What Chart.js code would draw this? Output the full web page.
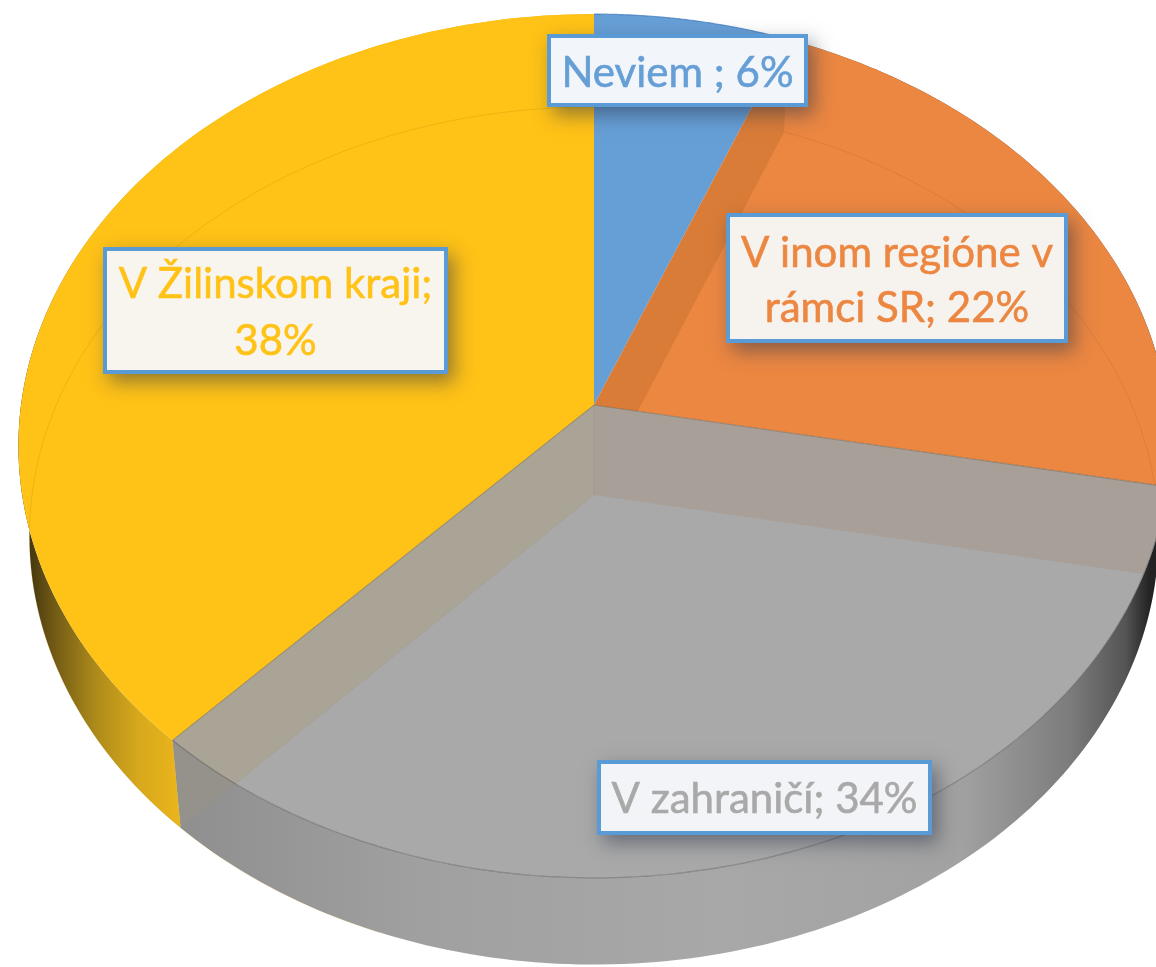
<!DOCTYPE html>
<html>
<head>
<meta charset="utf-8">
<title>Pie</title>
<script src="https://cdn.jsdelivr.net/npm/chart.js@4"></script>
<style>
    html, body { margin: 0; padding: 0; background: #fff; overflow: hidden; }
    /* the reference is a soft, scaled up screenshot */
    canvas { display: block; filter: blur(0.6px); }
</style>
</head>
<body>
<canvas id="pieChart" width="1156" height="967"></canvas>
<script>
const categories = ['Neviem', 'V inom regióne v rámci SR', 'V zahraničí', 'V Žilinskom kraji'];
const values = [6, 22, 34, 38];
const sliceColors = ['#669FD6', '#EC8742', '#A9A9A9', '#FFC217'];
const labelLines = [
    ['Neviem ; 6%'],
    ['V inom regióne v', 'rámci SR; 22%'],
    ['V zahraničí; 34%'],
    ['V Žilinskom kraji;', '38%']
];

// top and bottom face of the disc, tilted in perspective
const topFace = { cx: 594, cy: 405, a: 573, b: 428 };
const baseFace = { cx: 594, cy: 495, a: 562, b: 425 };
const tilt = -0.0949;

function project(face, angle) {
    const u = Math.cos(angle), v = Math.sin(angle);
    const w = 1 + tilt * v;
    return [face.cx + face.a * u / w, face.cy + face.b * v / w];
}

function traceArc(ctx, face, from, to, first) {
    const steps = 120;
    for (let i = 0; i <= steps; i++) {
        const p = project(face, from + (to - from) * i / steps);
        if (i === 0 && first) ctx.moveTo(p[0], p[1]);
        else ctx.lineTo(p[0], p[1]);
    }
}

function sliceTop(ctx, arc) {
    ctx.beginPath();
    ctx.moveTo(topFace.cx, topFace.cy);
    traceArc(ctx, topFace, arc.startAngle, arc.endAngle, false);
    ctx.closePath();
}

function wallQuad(ctx, angle) {
    const t = project(topFace, angle), b = project(baseFace, angle);
    ctx.beginPath();
    ctx.moveTo(topFace.cx, topFace.cy);
    ctx.lineTo(t[0], t[1]);
    ctx.lineTo(b[0], b[1]);
    ctx.lineTo(baseFace.cx, baseFace.cy);
    ctx.closePath();
}

function outerWall(ctx, arc, stops) {
    const g = ctx.createLinearGradient(stops[0][0], 0, stops[stops.length - 1][0], 0);
    const span = stops[stops.length - 1][0] - stops[0][0];
    stops.forEach(s => g.addColorStop((s[0] - stops[0][0]) / span, s[1]));
    ctx.beginPath();
    traceArc(ctx, topFace, arc.startAngle, arc.endAngle, true);
    traceArc(ctx, baseFace, arc.endAngle, arc.startAngle, false);
    ctx.closePath();
    ctx.fillStyle = g;
    ctx.fill();
}

const disc3d = {
    id: 'disc3d',
    // the pie controller works out the angles, they are only painted differently here
    beforeDatasetDraw(chart, args) {
        const ctx = chart.ctx;
        const arcs = args.meta.data;
        const [blue, orange, grey, yellow] = arcs;
        ctx.save();

        outerWall(ctx, orange, [[1100, '#555'], [1156, '#222']]);
        outerWall(ctx, grey, [[180, '#8F8F8F'], [420, '#A0A0A0'], [720, '#A8A8A8'], [960, '#A2A2A2'], [1070, '#7C7C7C'], [1125, '#555'], [1150, '#222']]);
        outerWall(ctx, yellow, [[18, '#2E260C'], [50, '#6B5514'], [95, '#AC8A1A'], [140, '#D8A91C'], [185, '#EDB61C']]);

        arcs.forEach((arc, i) => {
            sliceTop(ctx, arc);
            ctx.fillStyle = sliceColors[i];
            ctx.fill();
        });

        // inner cut seen through the orange slice
        ctx.save();
        sliceTop(ctx, orange);
        ctx.clip();
        wallQuad(ctx, orange.startAngle);
        ctx.fillStyle = '#D97C38';
        ctx.fill();
        ctx.restore();

        // far rim of the base, faint through the faces
        ctx.lineWidth = 1;
        ctx.strokeStyle = 'rgba(150,80,20,0.18)';
        ctx.beginPath();
        traceArc(ctx, baseFace, orange.startAngle, orange.endAngle, true);
        ctx.stroke();
        ctx.strokeStyle = 'rgba(170,120,0,0.2)';
        ctx.beginPath();
        traceArc(ctx, baseFace, yellow.startAngle - 0.4, yellow.endAngle, true);
        ctx.stroke();

        // cut faces of the grey slice
        wallQuad(ctx, grey.endAngle);
        ctx.fillStyle = '#94928A';
        ctx.fill();
        ctx.save();
        sliceTop(ctx, grey);
        ctx.clip();
        wallQuad(ctx, grey.startAngle);
        ctx.fillStyle = '#A89F98';
        ctx.fill();
        wallQuad(ctx, grey.endAngle);
        ctx.fillStyle = '#AAA496';
        ctx.fill();
        ctx.restore();
        // the two cut faces meet along the vertical at the centre
        ctx.strokeStyle = 'rgba(120,115,105,0.2)';
        ctx.beginPath();
        ctx.moveTo(topFace.cx, topFace.cy);
        ctx.lineTo(baseFace.cx, baseFace.cy);
        ctx.stroke();

        // edges
        ctx.lineWidth = 1.2;
        ctx.strokeStyle = 'rgba(120,95,70,0.5)';
        ctx.beginPath();
        ctx.moveTo(topFace.cx, topFace.cy);
        let p = project(topFace, grey.startAngle);
        ctx.lineTo(p[0], p[1]);
        ctx.stroke();
        ctx.strokeStyle = 'rgba(120,110,80,0.4)';
        ctx.beginPath();
        ctx.moveTo(topFace.cx, topFace.cy);
        p = project(topFace, grey.endAngle);
        ctx.lineTo(p[0], p[1]);
        ctx.stroke();
        ctx.strokeStyle = 'rgba(90,90,90,0.5)';
        ctx.beginPath();
        traceArc(ctx, topFace, grey.startAngle, grey.endAngle, true);
        ctx.stroke();
        ctx.strokeStyle = 'rgba(60,120,190,0.7)';
        ctx.beginPath();
        traceArc(ctx, topFace, blue.startAngle, blue.endAngle, true);
        ctx.stroke();

        ctx.restore();
        return false;
    },
    afterDraw(chart) {
        const ctx = chart.ctx;
        labelBoxes.forEach((box, i) => {
            ctx.save();
            ctx.shadowColor = 'rgba(40,50,70,0.5)';
            ctx.shadowBlur = 18;
            ctx.shadowOffsetX = 6;
            ctx.shadowOffsetY = 8;
            ctx.fillStyle = '#5B9BD5';
            ctx.fillRect(box.x, box.y, box.w, box.h);
            ctx.restore();
            ctx.fillStyle = box.fill;
            ctx.fillRect(box.x + 4, box.y + 4, box.w - 8, box.h - 8);
            ctx.fillStyle = sliceColors[i];
            ctx.strokeStyle = sliceColors[i];
            ctx.lineWidth = 0.6;
            ctx.font = '42px Lato';
            ctx.textAlign = 'center';
            ctx.textBaseline = 'alphabetic';
            labelLines[i].forEach((line, n) => {
                ctx.fillText(line, box.x + box.w / 2, box.base[n]);
                ctx.strokeText(line, box.x + box.w / 2, box.base[n]);
            });
        });
    }
};

const labelBoxes = [
    { x: 547, y: 34, w: 261, h: 73, fill: '#F2F5FA', base: [87] },
    { x: 726, y: 213, w: 342, h: 130, fill: '#F6F2EE', base: [267, 322] },
    { x: 597, y: 760, w: 335, h: 75, fill: '#F3F4F7', base: [813] },
    { x: 103, y: 247, w: 345, h: 127, fill: '#F8F5EE', base: [298, 355] }
];

new Chart(document.getElementById('pieChart').getContext('2d'), {
    type: 'pie',
    data: {
        labels: categories,
        datasets: [{
            data: values,
            backgroundColor: sliceColors,
            borderWidth: 0
        }]
    },
    options: {
        responsive: false,
        animation: false,
        plugins: {
            legend: { display: false },
            tooltip: { enabled: false }
        }
    },
    plugins: [disc3d]
});
</script>
</body>
</html>
